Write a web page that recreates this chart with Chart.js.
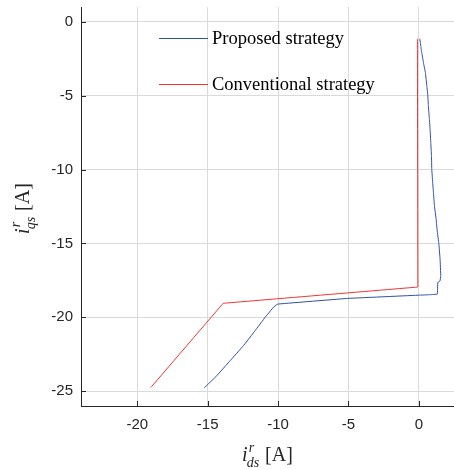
<!DOCTYPE html>
<html>
<head>
<meta charset="utf-8">
<script src="https://cdn.jsdelivr.net/npm/chart.js@4"></script>
<style>
  html, body { margin: 0; padding: 0; background: #fff; }
  #wrap { width: 454px; height: 470px; }
</style>
</head>
<body>
<div id="wrap"><canvas id="chart" width="454" height="470"></canvas></div>
<script>
// data
const seriesNames = ['Proposed strategy', 'Conventional strategy'];
const propX = [0.07, 0.14, 0.21, 0.33, 0.47, 0.57, 0.64, 0.68, 0.75, 0.80, 0.85, 0.90, 0.92, 0.97, 1.04, 1.11, 1.23, 1.32, 1.42, 1.51, 1.56, 1.51, 1.35, 1.32,
               0.8, 0, -5.1, -10.0, -10.09, -10.33, -10.92, -11.63, -12.46, -13.4, -14.35, -15.25];
const propY = [-1.15, -1.65, -2.1, -2.77, -3.45, -4.35, -4.98, -5.7, -6.6, -7.28, -8.18, -9.08, -9.98, -10.66, -11.55, -12.46, -13.36, -14.26, -14.98, -16.04, -17.19, -17.53, -17.64, -18.43,
               -18.47, -18.5, -18.72, -19.1, -19.13, -19.32, -20.0, -20.9, -21.92, -22.93, -23.95, -24.78];
const convX = [-0.1, -0.07, -13.9, -19.04];
const convY = [-1.15, -17.95, -19.05, -24.75];
const xTicks = [-20, -15, -10, -5, 0];
const yTicks = [-25, -20, -15, -10, -5, 0];

const toPts = (xs, ys) => xs.map((x, i) => ({ x: x, y: ys[i] }));
const serif = '"Liberation Serif", "Times New Roman", serif';
const axisColor = '#262626';

// axis titles with super/subscripts + inward tick marks + legend inside the axes
function drawTitle(ctx, sub, cx, baseY) {
  const big = 'italic 20px ' + serif;
  const small = 'italic 14px ' + serif;
  const plain = '20px ' + serif;
  ctx.font = big; const wi = ctx.measureText('i').width;
  ctx.font = small; const wr = ctx.measureText('r').width; const ws = ctx.measureText(sub).width;
  ctx.font = plain; const wa = ctx.measureText(' [A]').width;
  const scriptW = Math.max(wr + 2, ws);
  const x0 = cx - (wi + scriptW + wa) / 2;
  ctx.textAlign = 'left';
  ctx.textBaseline = 'alphabetic';
  ctx.font = big; ctx.fillText('i', x0, baseY);
  ctx.font = small;
  ctx.fillText('r', x0 + wi + 1, baseY - 9);
  ctx.fillText(sub, x0 + wi - 1, baseY + 6);
  ctx.font = plain; ctx.fillText(' [A]', x0 + wi + scriptW, baseY);
}

const decorPlugin = {
  id: 'decor',
  afterDraw(chart) {
    const ctx = chart.ctx;
    const a = chart.chartArea;
    const xs = chart.scales.x, ys = chart.scales.y;
    ctx.save();
    // inward ticks
    ctx.strokeStyle = axisColor;
    ctx.lineWidth = 1;
    ctx.beginPath();
    xTicks.forEach(v => {
      const px = Math.round(xs.getPixelForValue(v)) + 0.5;
      ctx.moveTo(px, a.bottom); ctx.lineTo(px, a.bottom - 5);
    });
    yTicks.forEach(v => {
      const py = Math.round(ys.getPixelForValue(v)) + 0.5;
      ctx.moveTo(a.left, py); ctx.lineTo(a.left + 5, py);
    });
    ctx.stroke();

    // legend
    const legY = [38, 84];
    chart.data.datasets.forEach((ds, i) => {
      ctx.strokeStyle = ds.borderColor;
      ctx.lineWidth = 1;
      ctx.beginPath();
      ctx.moveTo(159, legY[i] + 0.5); ctx.lineTo(208, legY[i] + 0.5);
      ctx.stroke();
      ctx.fillStyle = '#000';
      ctx.font = '18.5px ' + serif;
      ctx.textAlign = 'left';
      ctx.textBaseline = 'middle';
      ctx.fillText(ds.label, 212, legY[i] + 1);
    });

    // axis titles
    ctx.fillStyle = axisColor;
    drawTitle(ctx, 'ds', (a.left + a.right) / 2, 461);
    ctx.translate(29, (a.top + a.bottom) / 2 + 2);
    ctx.rotate(-Math.PI / 2);
    drawTitle(ctx, 'qs', 0, 0);
    ctx.restore();
  }
};

const tickFont = { family: '"Liberation Sans", Arial, sans-serif', size: 15 };

new Chart(document.getElementById('chart').getContext('2d'), {
  type: 'line',
  data: {
    datasets: [{
      label: seriesNames[0],
      data: toPts(propX, propY),
      borderColor: '#2f4fa8',
      borderWidth: 1,
      pointRadius: 0,
      tension: 0.0001   // non-zero so chart.js doesn't use the fast path (data isn't sorted by x)
    }, {
      label: seriesNames[1],
      data: toPts(convX, convY),
      borderColor: '#f03434',
      borderWidth: 1,
      pointRadius: 0,
      tension: 0.0001
    }]
  },
  options: {
    responsive: false,
    animation: false,
    layout: { padding: { top: 7, right: 0, left: 0, bottom: 0 } },
    plugins: { legend: { display: false }, tooltip: { enabled: false } },
    scales: {
      x: {
        type: 'linear',
        min: -24,
        max: 2.5,
        afterBuildTicks: s => { s.ticks = xTicks.map(v => ({ value: v })); },
        afterFit: s => { s.height = 64; s.paddingLeft = 0; s.paddingRight = 0; },
        grid: { color: '#dadada', drawTicks: false },
        border: { color: axisColor, width: 1 },
        ticks: { color: axisColor, padding: 10, font: tickFont }
      },
      y: {
        type: 'linear',
        min: -26,
        max: 1,
        afterBuildTicks: s => { s.ticks = yTicks.map(v => ({ value: v })); },
        afterFit: s => { s.width = 81; s.paddingTop = 0; s.paddingBottom = 0; },
        grid: { color: '#dadada', drawTicks: false },
        border: { color: axisColor, width: 1 },
        ticks: { color: axisColor, padding: 8, font: tickFont }
      }
    }
  },
  plugins: [decorPlugin]
});
</script>
</body>
</html>
